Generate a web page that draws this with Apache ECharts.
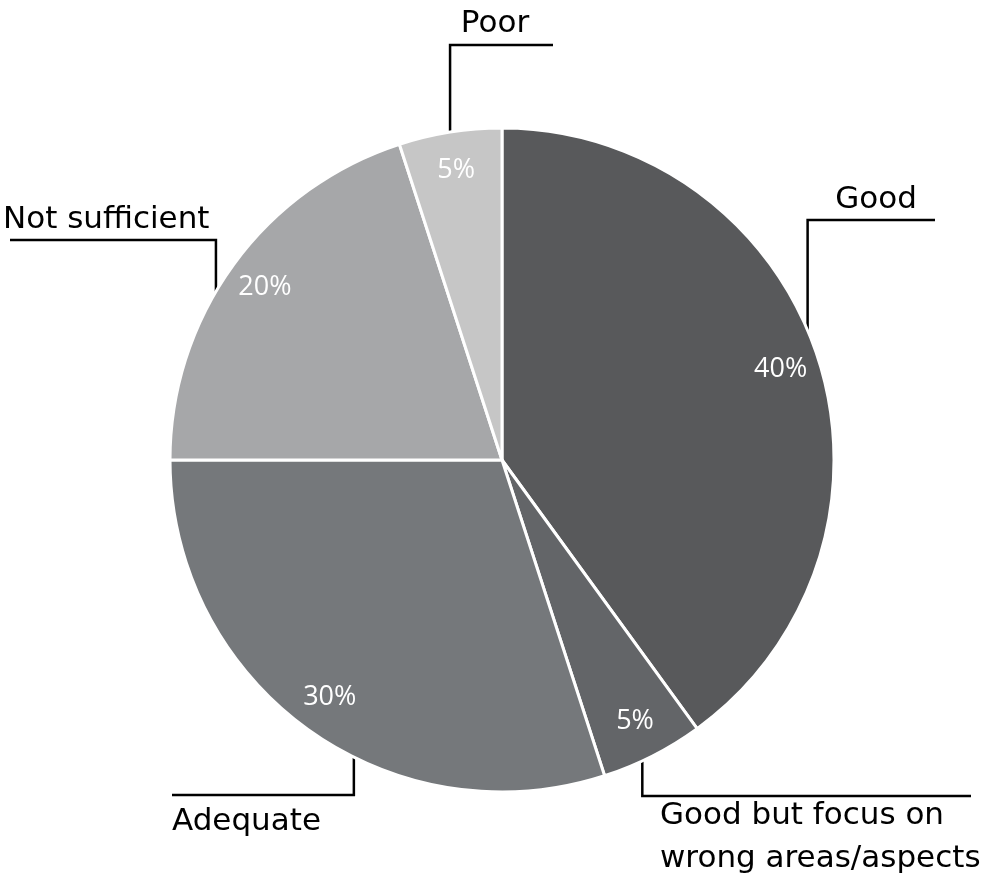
<!DOCTYPE html>
<html>
<head>
<meta charset="utf-8">
<script src="https://cdn.jsdelivr.net/npm/echarts@6/dist/echarts.min.js"></script>
<style>
  html, body { margin: 0; padding: 0; background: #fff; }
  #chart { width: 998px; height: 875px; }
</style>
</head>
<body>
<div id="chart"></div>
<script>
// data
const categories = ['Good', 'Good but focus on\nwrong areas/aspects', 'Adequate', 'Not sufficient', 'Poor'];
const shares = [40, 5, 30, 20, 5];

const sliceColors = ['#58595b', '#636568', '#75787b', '#a6a7a9', '#c6c6c6'];

const CX = 502, CY = 460, R = 332;

// callouts: angle where the leader leaves the rim (deg, clockwise from 12 o'clock),
// height of the shelf line, its far end, and where the text centre sits
const callouts = [
  { angle: 67,    shelfY: 220, shelfEnd: 935, tx: 876, ty: 200, align: 'center' },
  { angle: 155,   shelfY: 796, shelfEnd: 971, tx: 660, ty: 837, align: 'left' },
  { angle: 206.5, shelfY: 795, shelfEnd: 172, tx: 172, ty: 822, align: 'left' },
  { angle: 300.5, shelfY: 240, shelfEnd: 10,  tx: 3,   ty: 220, align: 'left' },
  { angle: 351,   shelfY: 45,  shelfEnd: 553, tx: 495, ty: 24,  align: 'center' }
];

const pieData = categories.map((name, i) => ({ name, value: shares[i], itemStyle: { color: sliceColors[i] } }));

const chart = echarts.init(document.getElementById('chart'));
chart.setOption({
  animation: false,
  backgroundColor: '#fff',
  series: [
    {
      type: 'pie',
      center: [CX, CY],
      radius: [0, R],
      startAngle: 90,
      clockwise: true,
      avoidLabelOverlap: false,
      emphasis: { disabled: true },
      itemStyle: { borderColor: '#fff', borderWidth: 3 },
      label: {
        show: true,
        position: 'outer',
        alignTo: 'none',
        color: '#000',
        fontFamily: 'DejaVu Sans',
        fontSize: 31,
        lineHeight: 43
      },
      labelLine: { show: true, length: 20, length2: 20, lineStyle: { color: '#000', width: 2.5 } },
      labelLayout: function (p) {
        const c = callouts[p.dataIndex];
        const a = c.angle * Math.PI / 180;
        const ex = CX + R * Math.sin(a), ey = CY - R * Math.cos(a);
        return {
          x: c.tx, y: c.ty, align: c.align, verticalAlign: 'middle',
          labelLinePoints: [[ex, ey], [ex, c.shelfY], [c.shelfEnd, c.shelfY]]
        };
      },
      data: pieData
    },
    {
      type: 'pie',
      center: [CX, CY],
      radius: [248, R],
      startAngle: 90,
      clockwise: true,
      silent: true,
      z: 3,
      emphasis: { disabled: true },
      itemStyle: { color: 'rgba(0,0,0,0)', borderWidth: 0 },
      label: {
        show: true,
        position: 'inside',
        formatter: '{c}%',
        color: '#fff',
        fontFamily: 'Open Sans',
        fontSize: 27
      },
      labelLine: { show: false },
      data: categories.map((name, i) => ({ name, value: shares[i] }))
    }
  ]
});
</script>
</body>
</html>
